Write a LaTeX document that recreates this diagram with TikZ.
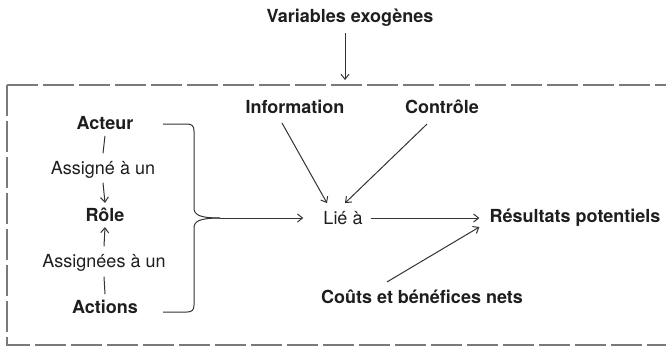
\documentclass[tikz,border=0pt]{standalone}
\usepackage{fontspec}
\setmainfont{TeX Gyre Heros}
\usetikzlibrary{arrows.meta,calc}
\definecolor{ink}{HTML}{1E1E1E}
\definecolor{lineink}{HTML}{333333}
\definecolor{boxgray}{HTML}{7A7A7A}
\begin{document}
\begin{tikzpicture}[x=1pt,y=-1pt,
  lbl/.style={font=\fontsize{18}{20}\selectfont, text=ink, inner sep=0pt, anchor=center},
  blbl/.style={lbl, font=\fontsize{18}{20}\selectfont\bfseries},
  conn/.style={draw=lineink, line width=1pt},
  arr/.style={conn, -{Straight Barb[length=5pt,width=8pt,line width=1pt]}},
  frame/.style={draw=boxgray, line width=2pt, dash pattern=on 31pt off 5pt}
]
\useasboundingbox (0,0) rectangle (666,349);
\clip (0,0) rectangle (666,349);

% frame
\draw[frame] (7,85) -- (700,85);
\draw[frame] (7,85) -- (7,345) -- (700,345);

% nodes
\node[blbl] (var) at (350,18) {Variables exogènes};
\coordinate (varend) at (345,80);

\node[blbl] (acteur) at (105,123) {Acteur};
\node[lbl] (assigne) at (103,170) {Assigné à un};
\node[blbl] (role) at (105,215) {Rôle};
\node[lbl] (assignees) at (104,263) {Assignées à un};
\node[blbl] (actions) at (105,307) {Actions};

\node[blbl] (info) at (295,107) {Information};
\node[blbl] (controle) at (442,107) {Contrôle};
\node[lbl] (lie) at (343,218) {Lié à};
\node[blbl] (res) at (575,218) {Résultats potentiels};
\node[blbl] (couts) at (422,297) {Coûts et bénéfices nets};

% connectors
\draw[arr] (varend |- 0,33) -- (varend);

\draw[conn] ($(acteur.south)+(0,6)$) -- ($(assigne.north)+(0,-8)$);
\draw[arr] ($(assigne.south)+(0,4)$) -- ($(role.north)+(0,-5)$);
\draw[arr] ($(assignees.north)+(0,-8)$) -- ($(role.south)+(0,5)$);
\draw[conn] ($(actions.north)+(0,-6)$) -- ($(assignees.south)+(0,5)$);

% brace
\coordinate (btop) at (163,124);
\coordinate (bbot) at (163,312);
\coordinate (btip) at (220,218);
\draw[conn] (btop) -- (187,124) .. controls (192,124) and (194,126) .. (194,131)
  -- (194,208) .. controls (194,215) and (200,218) .. (btip);
\draw[conn] (bbot) -- (187,312) .. controls (192,312) and (194,310) .. (194,305)
  -- (194,228) .. controls (194,221) and (200,218) .. (btip);
\draw[arr] (btip) -- ($(lie.west)+(-20,0)$);

\draw[arr] ($(info.south)+(-13,9)$) -- ($(lie.north)+(-16,-8)$);
\draw[arr] ($(controle.south)+(-15,10)$) -- ($(lie.north)+(2,-8)$);
\draw[arr] ($(lie.east)+(8,0)$) -- ($(res.west)+(-10,0)$);
\draw[arr] ($(couts.north)+(-35,-8)$) -- ($(res.west)+(-10,9)$);
\end{tikzpicture}
\end{document}
